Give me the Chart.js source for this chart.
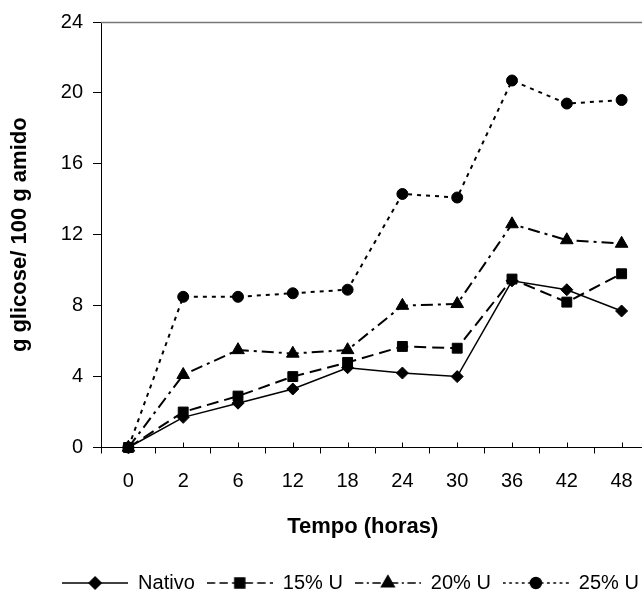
<!DOCTYPE html>
<html>
<head>
<meta charset="utf-8">
<script src="https://cdn.jsdelivr.net/npm/chart.js@4"></script>
<style>
    body { margin: 0; background: #fff; }
    #wrap { width: 642px; height: 591px; overflow: hidden; }
    canvas { display: block; }
</style>
</head>
<body>
<div id="wrap"><canvas id="glucoseChart" width="660" height="603"></canvas></div>
<script>
const horas = ['0', '2', '6', '12', '18', '24', '30', '36', '42', '48'];
const nativo = [0, 1.7, 2.5, 3.3, 4.5, 4.2, 4.0, 9.4, 8.9, 7.7];
const u15 = [0, 2.0, 2.9, 4.0, 4.8, 5.7, 5.6, 9.5, 8.2, 9.8];
const u20 = [0, 4.1, 5.5, 5.3, 5.5, 8.0, 8.1, 12.6, 11.7, 11.5];
const u25 = [0, 8.5, 8.5, 8.7, 8.9, 14.3, 14.1, 20.7, 19.4, 19.6];
const yMin = 0, yMax = 24, yStep = 4;

const FONT = 'Liberation Sans, Arial, sans-serif';

function makeSeries(label, data, style, radius, dash, width, order) {
    return {
        label: label,
        data: data,
        borderColor: '#000',
        borderWidth: width,
        borderDash: dash,
        backgroundColor: '#000',
        pointStyle: style,
        pointRadius: radius,
        pointHoverRadius: radius,
        pointBackgroundColor: '#000',
        pointBorderColor: '#000',
        pointBorderWidth: 1,
        tension: 0,
        fill: false,
        clip: false,
        order: order
    };
}

// legend symbol: line with the marker in the middle
function legendSymbol(ds) {
    const c = document.createElement('canvas');
    c.width = 66;
    c.height = 20;
    const g = c.getContext('2d');
    g.strokeStyle = '#000';
    g.lineWidth = 1.5;
    g.setLineDash(ds.borderDash.map(v => v * 0.7));
    g.beginPath();
    g.moveTo(0, 10);
    g.lineTo(66, 10);
    g.stroke();
    g.setLineDash([]);
    g.fillStyle = '#000';
    Chart.helpers.drawPoint(g, {pointStyle: ds.pointStyle, radius: ds.pointRadius, rotation: 0, borderWidth: 1}, 33, 10);
    return c;
}

const axisExtras = {
    id: 'axisExtras',
    afterLayout(chart) {
        // move legend to the right like the original
        chart.legend.left += 26;
        chart.legend.right += 26;
    },
    beforeDatasetsDraw(chart) {
        const ctx = chart.ctx;
        const area = chart.chartArea;
        const x = chart.scales.x;
        ctx.save();
        ctx.strokeStyle = '#777';
        ctx.lineWidth = 1.5;
        ctx.beginPath();
        ctx.moveTo(area.left, area.top + 0.5);
        ctx.lineTo(area.right, area.top + 0.5);
        ctx.stroke();
        ctx.strokeStyle = '#000';
        ctx.lineWidth = 1;
        ctx.beginPath();
        for (let i = 0; i < horas.length; i++) {
            const px = Math.round(x.getPixelForTick(i)) + 0.5;
            ctx.moveTo(px, area.bottom);
            ctx.lineTo(px, area.bottom - 5);
        }
        ctx.stroke();
        ctx.restore();
    }
};

const ctx = document.getElementById('glucoseChart').getContext('2d');
const chart = new Chart(ctx, {
    type: 'line',
    data: {
        labels: horas,
        datasets: [
            makeSeries('Nativo', nativo, 'rectRot', 6, [], 1.5, 1),
            makeSeries('15% U', u15, 'rect', 7, [12, 6], 2, 0),
            makeSeries('20% U', u20, 'triangle', 7.3, [12, 5, 3, 5], 2, 2),
            makeSeries('25% U', u25, 'circle', 5.5, [4, 5], 2, 3)
        ]
    },
    options: {
        responsive: false,
        animation: false,
        devicePixelRatio: 1,
        layout: { padding: { top: 22, right: 11, bottom: 0, left: 0 } },
        plugins: {
            tooltip: { enabled: false },
            legend: {
                position: 'bottom',
                labels: {
                    usePointStyle: true,
                    pointStyleWidth: 66,
                    padding: 12,
                    color: '#000',
                    font: { family: FONT, size: 20 },
                    generateLabels(chart) {
                        return chart.data.datasets.map((ds, i) => ({
                            text: ds.label,
                            pointStyle: legendSymbol(ds),
                            fillStyle: '#000',
                            strokeStyle: '#000',
                            lineWidth: 0,
                            hidden: false,
                            datasetIndex: i
                        }));
                    }
                }
            }
        },
        scales: {
            x: {
                offset: true,
                afterFit(scale) { scale.height = 113.5; },
                grid: { offset: true, drawOnChartArea: false, tickLength: 6, tickColor: '#000' },
                border: { color: '#000', width: 1 },
                ticks: { color: '#000', padding: 16, font: { family: FONT, size: 20 }, maxRotation: 0 },
                title: {
                    display: true,
                    text: 'Tempo (horas)    ',
                    color: '#000',
                    font: { family: FONT, size: 22, weight: 'bold' },
                    padding: { top: 4, bottom: 21 }
                }
            },
            y: {
                min: yMin,
                max: yMax,
                afterFit(scale) { scale.width = 101; },
                grid: { drawOnChartArea: false, tickLength: 8, tickColor: '#000' },
                border: { color: '#000', width: 1 },
                ticks: { stepSize: yStep, color: '#000', padding: 10, font: { family: FONT, size: 20 } },
                title: {
                    display: true,
                    text: 'g glicose/ 100 g amido',
                    color: '#000',
                    font: { family: FONT, size: 22, weight: 'bold' },
                    padding: { top: 7, bottom: 4 }
                }
            }
        }
    },
    plugins: [axisExtras]
});
</script>
</body>
</html>
